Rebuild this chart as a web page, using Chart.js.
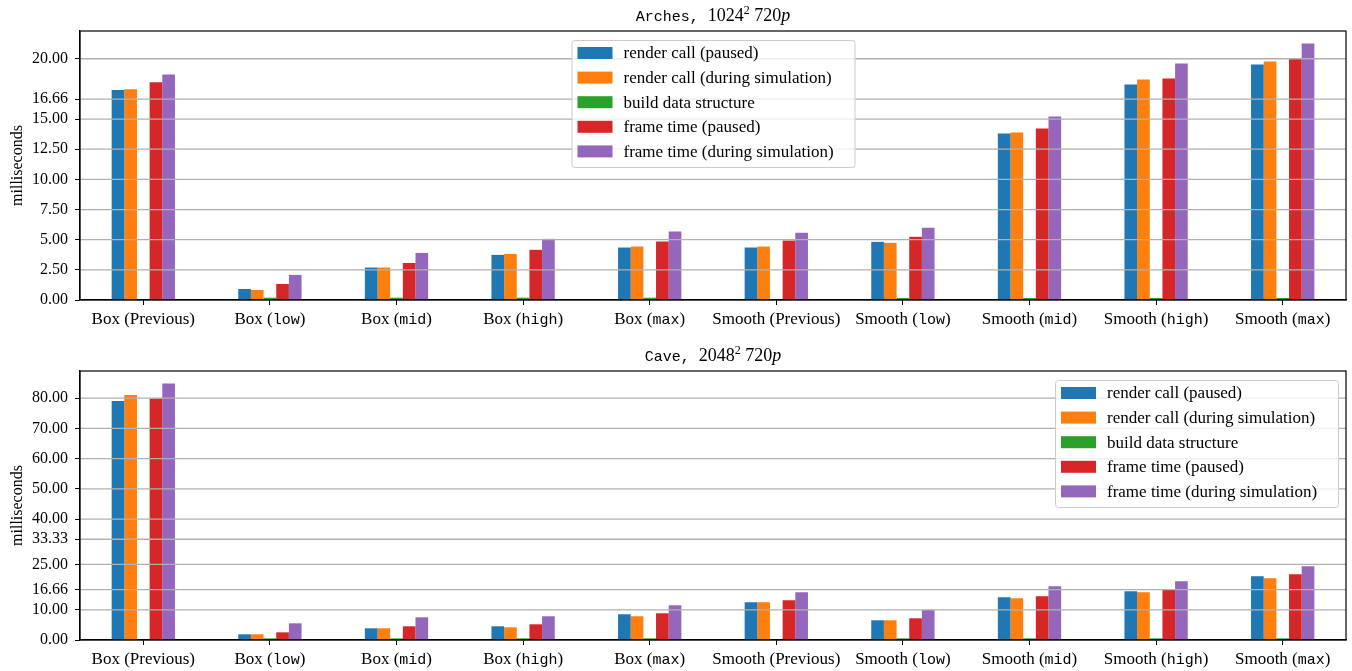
<!DOCTYPE html>
<html>
<head>
<meta charset="utf-8">
<script src="https://cdn.jsdelivr.net/npm/chart.js@4/dist/chart.umd.min.js"></script>
<style>
  html, body { margin: 0; padding: 0; background: #ffffff; }
  #wrap { position: relative; width: 1352px; height: 671px; overflow: hidden; }
  canvas { position: absolute; left: 0; }
</style>
</head>
<body>
<div id="wrap">
  <canvas id="arches" width="1352" height="335" style="top:0"></canvas>
  <canvas id="cave" width="1352" height="336" style="top:335px"></canvas>
</div>
<script>
// ---- data -------------------------------------------------------------
const categories = [
  'Box (Previous)', 'Box (low)', 'Box (mid)', 'Box (high)', 'Box (max)',
  'Smooth (Previous)', 'Smooth (low)', 'Smooth (mid)', 'Smooth (high)', 'Smooth (max)'
];
const seriesNames = [
  'render call (paused)',
  'render call (during simulation)',
  'build data structure',
  'frame time (paused)',
  'frame time (during simulation)'
];
const seriesColors = ['#1f77b4', '#ff7f0e', '#2ca02c', '#d62728', '#9467bd'];

// Arches, 1024^2 at 720p (milliseconds)
const archesRenderPaused = [17.40, 0.91, 2.69, 3.74, 4.35, 4.35, 4.82, 13.80, 17.87, 19.53];
const archesRenderSim    = [17.48, 0.83, 2.69, 3.82, 4.43, 4.43, 4.74, 13.88, 18.28, 19.78];
const archesBuild        = [0.00, 0.19, 0.19, 0.19, 0.19, 0.00, 0.17, 0.17, 0.17, 0.17];
const archesFramePaused  = [18.06, 1.33, 3.07, 4.16, 4.85, 4.93, 5.24, 14.21, 18.37, 19.97];
const archesFrameSim     = [18.70, 2.08, 3.90, 5.07, 5.68, 5.57, 5.98, 15.21, 19.61, 21.27];
const archesTicks = [0, 2.5, 5, 7.5, 10, 12.5, 15, 16.66, 20];
const archesMax = 22.3;

// Cave, 2048^2 at 720p (milliseconds)
const caveRenderPaused = [79.1, 1.88, 3.87, 4.53, 8.51, 12.49, 6.52, 14.14, 16.13, 21.10];
const caveRenderSim    = [81.1, 1.88, 3.87, 4.20, 7.85, 12.49, 6.52, 13.81, 15.80, 20.44];
const caveBuild        = [0.00, 0.55, 0.55, 0.55, 0.55, 0.00, 0.55, 0.55, 0.55, 0.55];
const caveFramePaused  = [79.9, 2.54, 4.53, 5.19, 8.84, 13.15, 7.18, 14.48, 16.57, 21.77];
const caveFrameSim     = [84.9, 5.52, 7.51, 7.85, 11.49, 15.80, 9.94, 17.79, 19.45, 24.42];
const caveTicks = [0, 10, 16.66, 25, 33.33, 40, 50, 60, 70, 80];
const caveMax = 89.0;

// ---- styling ----------------------------------------------------------
const SERIF = '"Liberation Serif", "Times New Roman", serif';
const MONO = '"Liberation Mono", "Courier New", monospace';

function drawParts(ctx, parts, cx, baseline) {
  let total = 0;
  parts.forEach(p => { ctx.font = p.font; p.w = ctx.measureText(p.text).width; total += p.w; });
  let x = cx - total / 2;
  ctx.textAlign = 'left';
  ctx.textBaseline = 'alphabetic';
  parts.forEach(p => {
    ctx.font = p.font;
    ctx.fillText(p.text, x, baseline + (p.dy || 0));
    x += p.w;
  });
}

function drawLegend(ctx, chart, where) {
  const area = chart.chartArea;
  ctx.font = '17px ' + SERIF;
  const labels = chart.data.datasets.map(d => d.label);
  const textW = Math.max(...labels.map(l => ctx.measureText(l).width));
  const w = Math.max(283, 52 + textW + 9);
  const h = 127;
  const top = area.top + 9;
  const left = where === 'upper right'
    ? area.right - 8 - w
    : (area.left + area.right) / 2 - w / 2;

  ctx.beginPath();
  if (ctx.roundRect) ctx.roundRect(left + 0.5, top + 0.5, w, h, 3);
  else ctx.rect(left + 0.5, top + 0.5, w, h);
  ctx.fillStyle = 'rgba(255,255,255,0.8)';
  ctx.fill();
  ctx.strokeStyle = '#cccccc';
  ctx.lineWidth = 1;
  ctx.stroke();

  chart.data.datasets.forEach((ds, i) => {
    const cy = top + 13 + i * 24.6;
    ctx.fillStyle = ds.backgroundColor;
    ctx.fillRect(left + 6, cy - 6, 35, 12);
    ctx.fillStyle = '#000';
    ctx.textAlign = 'left';
    ctx.textBaseline = 'middle';
    ctx.font = '17px ' + SERIF;
    ctx.fillText(ds.label, left + 52, cy + 1);
  });
}

function panelPlugin(cfg) {
  return {
    id: 'panelDecor',
    afterDatasetsDraw(chart) {
      const ctx = chart.ctx, area = chart.chartArea, y = chart.scales.y;
      ctx.save();
      // horizontal reference lines, drawn over the bars
      ctx.strokeStyle = '#b0b0b0';
      ctx.lineWidth = 1.3;
      cfg.ticks.forEach(v => {
        if (v === 0) return;
        const py = y.getPixelForValue(v);
        ctx.beginPath();
        ctx.moveTo(area.left, py);
        ctx.lineTo(area.right, py);
        ctx.stroke();
      });
      // axes frame
      ctx.strokeStyle = '#000';
      ctx.lineWidth = 1.2;
      ctx.strokeRect(area.left, area.top, area.right - area.left, area.bottom - area.top);
      drawLegend(ctx, chart, cfg.legend);
      ctx.restore();
    },
    afterDraw(chart) {
      const ctx = chart.ctx, area = chart.chartArea, x = chart.scales.x;
      ctx.save();
      ctx.fillStyle = '#000';
      // title with mixed typefaces
      drawParts(ctx, cfg.title.map(p => Object.assign({}, p)), (area.left + area.right) / 2, area.top - 10);
      // category labels: mode names in typewriter face
      chart.data.labels.forEach((lab, i) => {
        const m = lab.match(/^(.*\()(.*)(\))$/);
        const code = m[2] !== 'Previous';
        const parts = [
          { text: m[1], font: '17px ' + SERIF },
          { text: m[2], font: code ? '15px ' + MONO : '17px ' + SERIF },
          { text: m[3], font: '17px ' + SERIF }
        ];
        drawParts(ctx, parts, x.getPixelForValue(i), area.bottom + 24);
      });
      ctx.restore();
    }
  };
}

function makeChart(id, series, ticks, yMax, title, legendWhere, topPad, xAxisHeight) {
  const datasets = series.map((values, i) => ({
    label: seriesNames[i],
    data: values,
    backgroundColor: seriesColors[i],
    borderWidth: 0,
    categoryPercentage: 0.5,
    barPercentage: 1.0
  }));
  return new Chart(document.getElementById(id), {
    type: 'bar',
    data: { labels: categories, datasets },
    options: {
      responsive: false,
      animation: false,
      layout: { padding: { top: topPad, right: 6, left: 0, bottom: 0 } },
      plugins: { legend: { display: false }, tooltip: { enabled: false }, title: { display: false } },
      scales: {
        x: {
          offset: true,
          grid: { drawOnChartArea: false, offset: false, tickLength: 5, tickColor: '#000', tickWidth: 1 },
          border: { display: true, color: '#000', width: 1.2 },
          ticks: { display: false },
          afterFit(scale) { scale.height = xAxisHeight; }
        },
        y: {
          min: 0,
          max: yMax,
          grid: { drawOnChartArea: false, tickLength: 5, tickColor: '#000', tickWidth: 1 },
          border: { display: true, color: '#000', width: 1.2 },
          ticks: {
            color: '#000',
            padding: 7,
            font: { family: SERIF, size: 16 },
            callback: v => Number(v).toFixed(2)
          },
          title: {
            display: true,
            text: 'milliseconds',
            color: '#000',
            font: { family: SERIF, size: 16 },
            padding: { top: 8, bottom: 0 }
          },
          afterBuildTicks(scale) { scale.ticks = ticks.map(v => ({ value: v })); },
          afterFit(scale) { scale.width = 80; }
        }
      }
    },
    plugins: [panelPlugin({ ticks, title, legend: legendWhere })]
  });
}

makeChart('arches',
  [archesRenderPaused, archesRenderSim, archesBuild, archesFramePaused, archesFrameSim],
  archesTicks, archesMax,
  [
    { text: 'Arches, ', font: '15px ' + MONO },
    { text: '1024', font: '18px ' + SERIF },
    { text: '2', font: '12px ' + SERIF, dy: -7 },
    { text: ' 720', font: '18px ' + SERIF },
    { text: 'p', font: 'italic 18px ' + SERIF }
  ],
  'upper center', 31, 35);

makeChart('cave',
  [caveRenderPaused, caveRenderSim, caveBuild, caveFramePaused, caveFrameSim],
  caveTicks, caveMax,
  [
    { text: 'Cave, ', font: '15px ' + MONO },
    { text: '2048', font: '18px ' + SERIF },
    { text: '2', font: '12px ' + SERIF, dy: -7 },
    { text: ' 720', font: '18px ' + SERIF },
    { text: 'p', font: 'italic 18px ' + SERIF }
  ],
  'upper right', 36, 31);
</script>
</body>
</html>
